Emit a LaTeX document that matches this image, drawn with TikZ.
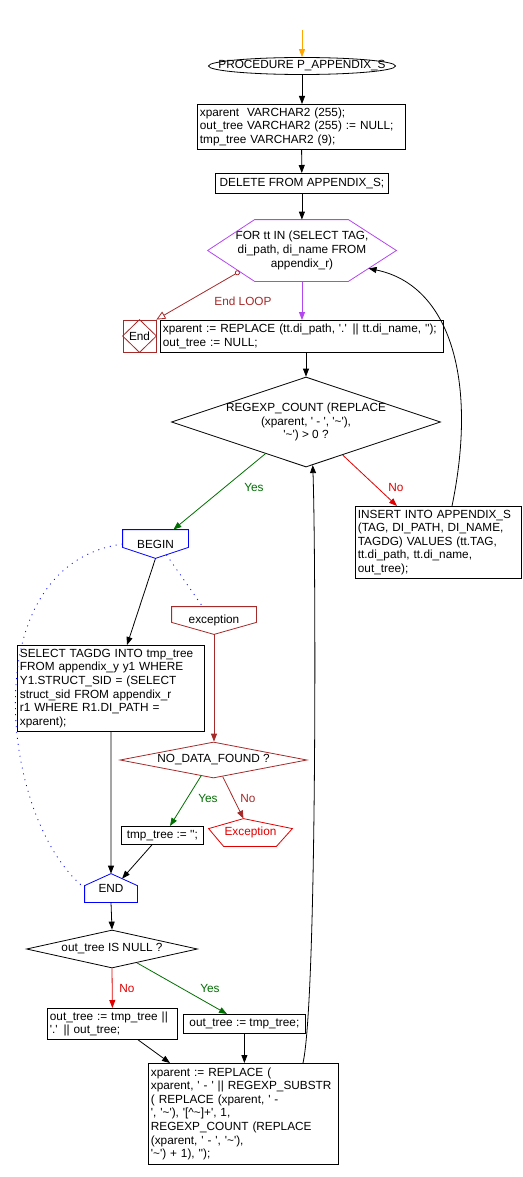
\documentclass[tikz,border=0pt]{standalone}
\usepackage{fontspec}
\setmainfont{Liberation Sans}
\usetikzlibrary{shapes.geometric,arrows.meta,calc}

\definecolor{loopc}{RGB}{180,70,240}
\definecolor{brn}{RGB}{165,42,42}
\definecolor{grn}{RGB}{0,110,0}
\definecolor{redc}{RGB}{225,0,0}
\definecolor{orng}{RGB}{255,165,0}
\definecolor{blu}{RGB}{0,0,255}

\newcommand{\squo}{\textquotesingle}
\newcommand{\tild}{\textasciitilde}

\tikzset{
  box/.style={draw, rectangle, anchor=north west, inner xsep=2.5pt, inner ysep=0pt, align=left},
  cbox/.style={draw, rectangle, anchor=north west, inner sep=0pt, align=center},
  shp/.style={rectangle, inner sep=0pt, align=center},
  dots/.style={blu, dash pattern=on 1pt off 5pt},
}

\begin{document}
\begin{tikzpicture}[x=1pt, y=-1pt, line width=0.8pt, font=\fontsize{11.8}{13.6}\selectfont,
  >={Triangle[length=8pt,width=6pt]}]
    \useasboundingbox (0,0) rectangle (522,1177);

    % Start
    \coordinate (start) at (302,30);
    \node[draw, ellipse, minimum width=187pt, minimum height=17pt, inner sep=0pt,
      label=center:PROCEDURE P\_APPENDIX\_S] (proc) at (302,66) {};
    \draw[orng,->] (start) -- (proc);

    % Declarations
    \node[box, text width=203pt, minimum height=45pt] (decl) at (197,104)
      {xparent\ \ VARCHAR2 (255);\\out\_tree VARCHAR2 (255) := NULL;\\tmp\_tree VARCHAR2 (9);};
    \draw[->] (proc.south) -- (proc.south |- decl.north);
    \node[cbox, minimum width=173pt, minimum height=20pt] (del) at (215,173) {DELETE FROM APPENDIX\_S;};
    \draw[->] (decl) -- (del);

    % Loop
    \node[shp, minimum width=188pt, minimum height=61pt] (loop) at (302,250.5)
      {FOR tt IN (SELECT TAG,\\di\_path, di\_name FROM\\appendix\_r)};
    \draw[loopc] (loop.west) -- ([xshift=47pt]loop.north west) -- ([xshift=-48pt]loop.north east)
      -- (loop.east) -- ([xshift=-48pt]loop.south east) -- ([xshift=47pt]loop.south west) -- cycle;
    \draw[->] (del.south) -- (del.south |- loop.north);

    \node[box, text width=278pt, minimum height=32pt] (set) at (160,320)
      {xparent := REPLACE (tt.di\_path, \squo.\squo{} || tt.di\_name, \squo\squo);\\out\_tree := NULL;};
    \draw[loopc,->] (loop.south) -- (loop.south |- set.north);

    % End loop
    \node[draw=brn, minimum width=33pt, minimum height=32pt, inner sep=0pt] (endn) at (139.5,336) {End};
    \draw[brn] (endn.north) -- (endn.east) -- (endn.south) -- (endn.west) -- cycle;
    \draw[brn, {Circle[open,length=5pt]}-{Triangle[open,length=9pt,width=8pt]}]
      ($(loop.west)!0.68!([xshift=47pt]loop.south west)$) -- (endn.north east);
    \node[text=brn] (endlbl) at (243,301) {End LOOP};

    % Decision
    \node[draw, diamond, minimum width=269pt, minimum height=90pt, inner sep=0pt,
      label={[align=center]center:REGEXP\_COUNT (REPLACE\\(xparent, \squo{} - \squo, \squo\tild\squo),\\\squo\tild\squo) > 0 ?}] (cnt) at (306,422) {};
    \draw[->] (cnt.north |- set.south) -- (cnt.north);

    \node[shp, minimum width=65pt, minimum height=28pt] (begin) at (155.5,544) {BEGIN};
    \draw[blu] (begin.north west) -- (begin.north east) -- ([yshift=11pt]begin.south east)
      -- (begin.south) -- ([yshift=11pt]begin.south west) -- cycle;
    \draw[grn,->] (cnt.-142) -- ([xshift=-15pt]begin.north east);
    \node[text=grn] (yes1) at (254,487) {Yes};

    \node[box, text width=161pt, minimum height=72pt] (ins) at (355,506)
      {INSERT INTO APPENDIX\_S\\(TAG, DI\_PATH, DI\_NAME,\\TAGDG) VALUES (tt.TAG,\\tt.di\_path, tt.di\_name,\\out\_tree);};
    \draw[redc,->] (cnt.-42) -- ([xshift=42pt]ins.north west);
    \node[text=redc] (no1) at (396,487) {No};
    \draw[->] ([xshift=97pt]ins.north west) .. controls (478,380) and (450,285) ..
      ($(loop.east)!0.58!([xshift=-48pt]loop.south east)$);

    % Begin block
    \node[box, text width=182pt, minimum height=86pt] (sel) at (17,645)
      {SELECT TAGDG INTO tmp\_tree\\FROM appendix\_y y1 WHERE\\Y1.STRUCT\_SID = (SELECT\\struct\_sid FROM appendix\_r\\r1 WHERE R1.DI\_PATH =\\xparent);};
    \draw[->] (begin.south) -- ([xshift=110pt]sel.north west);

    \node[shp, minimum width=84pt, minimum height=27pt] (exc) at (214,620.5) {exception};
    \draw[brn] (exc.north west) -- (exc.north east) -- ([yshift=12pt]exc.south east)
      -- (exc.south) -- ([yshift=12pt]exc.south west) -- cycle;
    \draw[dots] ($(begin.south)!0.33!([yshift=11pt]begin.south east)$) -- ([xshift=31pt]exc.north west);

    \node[draw=brn, diamond, minimum width=187pt, minimum height=36pt, inner sep=0pt,
      label=center:NO\_DATA\_FOUND ?] (nodat) at (213.5,760) {};
    \draw[brn,->] (exc.south) -- (exc.south |- nodat.north);

    \node[cbox, minimum width=82pt, minimum height=18pt] (tmp) at (121,826) {tmp\_tree := \squo\squo;};
    \draw[grn,->] (nodat.-128) -- ([xshift=49pt]tmp.north west);
    \node[text=grn] (yes2) at (208,798) {Yes};

    \node[shp, minimum width=83pt, minimum height=27pt, text=redc] (exn) at (250.5,832.5) {Exception};
    \draw[redc] ([xshift=-7pt]exn.north) -- ([yshift=-10pt]exn.north east) -- ([xshift=-16pt]exn.south east)
      -- ([xshift=15pt]exn.south west) -- ([yshift=-10pt]exn.north west) -- cycle;
    \draw[brn,->] (nodat.-61) -- ([xshift=-7pt]exn.north);
    \node[text=brn] (no2) at (248,798) {No};

    % End block
    \node[shp, minimum width=52pt, minimum height=28pt] (endb) at (111,888) {END};
    \draw[blu] (endb.north) -- ([yshift=-12pt]endb.north east) -- (endb.south east)
      -- (endb.south west) -- ([yshift=-12pt]endb.north west) -- cycle;
    \draw[->] (sel.south) -- (endb.north);
    \draw[->] ([xshift=31pt]tmp.south west) -- ($(endb.north)!0.42!([yshift=-12pt]endb.north east)$);
    \draw[dots] (begin.west) .. controls (-28,565) and (0,820) .. (endb.west);

    % out_tree
    \node[draw, diamond, minimum width=171pt, minimum height=38pt, inner sep=0pt,
      label=center:out\_tree IS NULL ?] (nul) at (112,949) {};
    \draw[->] (endb.south) -- (nul.north);

    \node[box, text width=125pt, minimum height=31pt] (ot1) at (47,1008)
      {out\_tree := tmp\_tree ||\\\squo.\squo{} || out\_tree;};
    \draw[redc,->] (nul.south) -- (ot1.north);
    \node[text=redc] (no3) at (127,988) {No};

    \node[cbox, minimum width=122pt, minimum height=19pt] (ot2) at (183,1014) {out\_tree := tmp\_tree;};
    \draw[grn,->] (nul.-29) -- ([xshift=44pt]ot2.north west);
    \node[text=grn] (yes3) at (210,988) {Yes};

    % Next xparent
    \node[box, text width=185pt, minimum height=101pt] (fin) at (148,1063)
      {xparent := REPLACE (\\xparent, \squo{} - \squo{} || REGEXP\_SUBSTR\\( REPLACE (xparent, \squo{} -\\\squo, \squo\tild\squo), \squo[\textasciicircum\tild]+\squo, 1,\\REGEXP\_COUNT (REPLACE\\(xparent, \squo{} - \squo, \squo\tild\squo),\\\squo\tild\squo) + 1), \squo\squo);};
    \draw[->] ([xshift=91pt]ot1.south west) -- ([xshift=22pt]fin.north west);
    \draw[->] (ot2.south) -- (ot2.south |- fin.north);
    \draw[->] ([xshift=155pt]fin.north west) .. controls (317,1000) and (316,560) ..
      ($(cnt.south)!0.05!(cnt.east)$);
\end{tikzpicture}
\end{document}
